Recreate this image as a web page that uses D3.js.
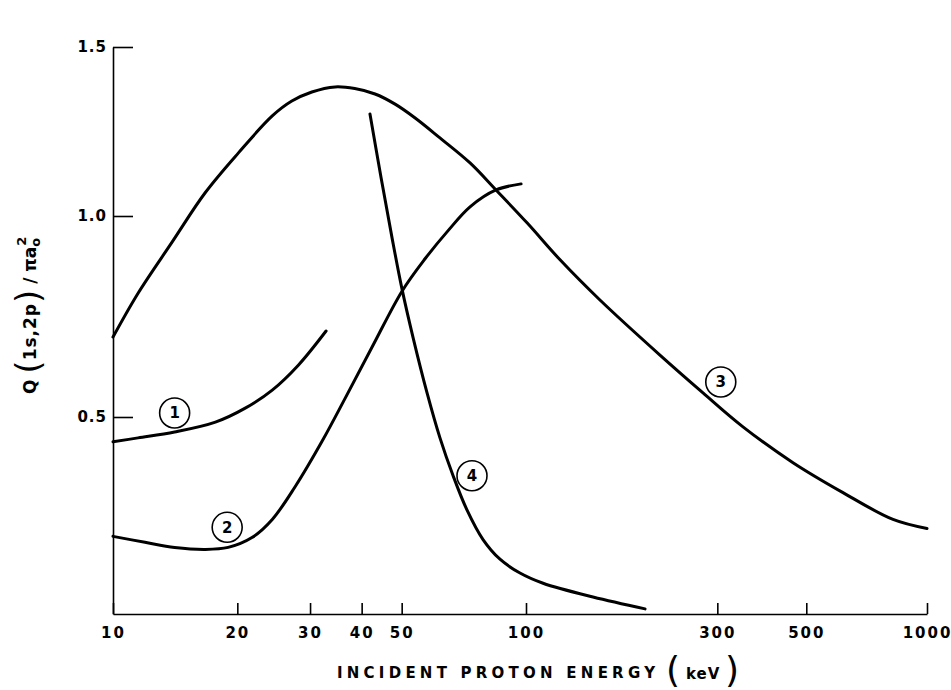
<!DOCTYPE html>
<html>
<head>
<meta charset="utf-8">
<script src="https://cdn.jsdelivr.net/npm/d3@7"></script>
<style>
body { margin: 0; background: #fff; }
text { font-family: "DejaVu Sans", sans-serif; fill: #000; }
</style>
</head>
<body>
<script>
// incident energy (keV) and Q(1s,2p)/pi a0^2
var energy1 = [10, 11.5, 14.1, 17.7, 20.9, 24.3, 28.1, 32.8];
var cross1  = [0.437, 0.447, 0.462, 0.487, 0.522, 0.567, 0.629, 0.714];

var energy2 = [10, 11.95, 14.1, 16.7, 19.0, 21.7, 24.3, 27.6, 32.1, 36.5, 42.4, 50.1, 56.9, 64.7, 73.2, 84.6, 97.3];
var cross2  = [0.197, 0.182, 0.169, 0.164, 0.169, 0.194, 0.240, 0.323, 0.439, 0.547, 0.674, 0.813, 0.893, 0.963, 1.027, 1.077, 1.095];

var energy3 = [10, 11.5, 13.9, 16.7, 20.1, 24.3, 27.1, 30.3, 34.5, 38.5, 43.1, 48.2, 53.9, 61.9, 73.2, 84.6, 100.6, 121.6, 152.9, 215.8, 276.3, 347.6, 463.3, 617.3, 822.6, 1000];
var cross3  = [0.699, 0.808, 0.935, 1.068, 1.186, 1.296, 1.340, 1.367, 1.382, 1.377, 1.361, 1.331, 1.290, 1.231, 1.157, 1.077, 0.983, 0.891, 0.791, 0.654, 0.560, 0.475, 0.384, 0.308, 0.240, 0.217];

var energy4 = [41.9, 44.6, 47.4, 50.1, 53.3, 57.6, 61.9, 66.6, 71.9, 78.7, 86.5, 96.7, 110.3, 146.9, 198.1];
var cross4  = [1.302, 1.112, 0.945, 0.818, 0.697, 0.560, 0.447, 0.351, 0.265, 0.189, 0.139, 0.104, 0.078, 0.043, 0.013];

var xTicks = [10, 20, 30, 40, 50, 100, 300, 500, 1000];
var yTicks = [0.5, 1.0, 1.5];

// circled curve numbers
var curveNames  = ["1", "2", "3", "4"];
var labelEnergy = [14.1, 18.9, 306, 74];
var labelCross  = [0.510, 0.220, 0.587, 0.351];

var svgContainer = d3.select("body").append("svg")
  .attr("width", 951)
  .attr("height", 690);

// hand drawn axes: decades are not quite equal, 1.5 sits low
var x = d3.scaleLog()
  .domain([10, 100, 1000])
  .range([113, 526, 927]);
var y = d3.scaleLinear()
  .domain([0, 0.5, 1.0, 1.5])
  .range([614, 417, 216, 47]);

var xAxis = svgContainer.append("g")
  .attr("transform", "translate(0," + y(0) + ")")
  .call(d3.axisBottom(x).tickValues(xTicks).tickFormat(d3.format("d"))
    .tickSizeInner(-11).tickSizeOuter(0).tickPadding(13));
xAxis.selectAll("text")
  .style("font-family", "DejaVu Sans")
  .style("font-size", "15px")
  .style("font-weight", "bold")
  .style("letter-spacing", "2px");

var yAxis = svgContainer.append("g")
  .attr("transform", "translate(" + x(10) + ",0)")
  .call(d3.axisLeft(y).tickValues(yTicks).tickFormat(d3.format(".1f"))
    .tickSizeInner(-20).tickSizeOuter(0).tickPadding(6));
yAxis.selectAll("text")
  .style("font-family", "DejaVu Sans")
  .style("font-size", "15px")
  .style("font-weight", "bold")
  .style("letter-spacing", "1px");

svgContainer.selectAll(".domain, .tick line")
  .attr("stroke", "#000")
  .attr("stroke-width", 1.6);

// curves
var line = d3.line()
  .x(function(d) { return x(d[0]); })
  .y(function(d) { return y(d[1]); })
  .curve(d3.curveCatmullRom.alpha(0.5));

var curves = [d3.zip(energy1, cross1), d3.zip(energy2, cross2), d3.zip(energy3, cross3), d3.zip(energy4, cross4)];
svgContainer.selectAll(".curve")
  .data(curves)
  .enter().append("path")
  .attr("class", "curve")
  .attr("d", line)
  .attr("fill", "none")
  .attr("stroke", "#000")
  .attr("stroke-width", 3)
  .attr("stroke-linecap", "round");

// circled numbers
var labels = svgContainer.selectAll(".curvelabel")
  .data(curveNames)
  .enter().append("g")
  .attr("class", "curvelabel")
  .attr("transform", function(d, i) { return "translate(" + x(labelEnergy[i]) + "," + y(labelCross[i]) + ")"; });
labels.append("circle")
  .attr("r", 15)
  .attr("fill", "none")
  .attr("stroke", "#000")
  .attr("stroke-width", 1.6);
labels.append("text")
  .attr("text-anchor", "middle")
  .attr("dy", "0.36em")
  .style("font-size", "15px")
  .style("font-weight", "bold")
  .text(function(d) { return d; });

// x title
svgContainer.append("text")
  .attr("x", 337)
  .attr("y", 678)
  .attr("textLength", 318)
  .attr("lengthAdjust", "spacing")
  .style("font-size", "15px")
  .style("font-weight", "bold")
  .text("INCIDENT PROTON ENERGY");
svgContainer.append("text")
  .attr("x", 666)
  .attr("y", 682)
  .style("font-size", "36px")
  .style("font-weight", "normal")
  .text("(");
svgContainer.append("text")
  .attr("x", 686)
  .attr("y", 679)
  .style("font-size", "15px")
  .style("font-weight", "bold")
  .style("letter-spacing", "1px")
  .text("keV");
svgContainer.append("text")
  .attr("x", 725)
  .attr("y", 682)
  .style("font-size", "36px")
  .style("font-weight", "normal")
  .text(")");

// y title, rotated
var yTitle = svgContainer.append("text")
  .attr("transform", "translate(36,394) rotate(-90)")
  .style("font-size", "17px")
  .style("font-weight", "bold");
yTitle.append("tspan").text("Q ");
yTitle.append("tspan").style("font-size", "34px").style("font-weight", "normal").attr("dy", 4).text("(");
yTitle.append("tspan").attr("dy", -4).style("letter-spacing", "1px").text("1s,2p");
yTitle.append("tspan").style("font-size", "34px").style("font-weight", "normal").attr("dy", 4).text(")");
yTitle.append("tspan").attr("dy", -4).text(" / πa");
yTitle.append("tspan").attr("dy", 4).style("font-size", "13px").text("o");
yTitle.append("tspan").attr("dx", -8).attr("dy", -14).style("font-size", "13px").text("2");
</script>
</body>
</html>
